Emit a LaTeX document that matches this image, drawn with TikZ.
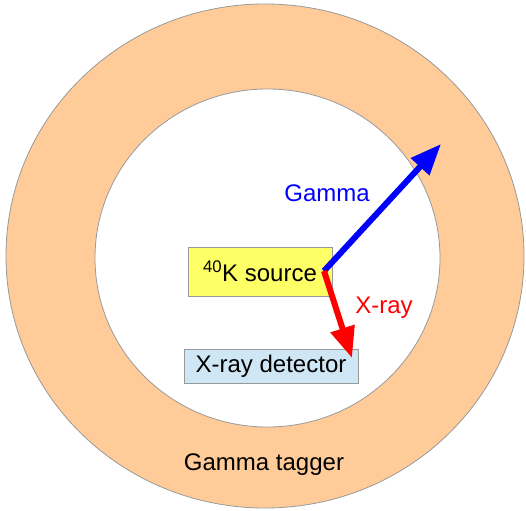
\documentclass[tikz,border=0pt]{standalone}
\usepackage{fontspec}
\setmainfont{Liberation Sans}
\usetikzlibrary{arrows.meta}
\definecolor{taggerfill}{HTML}{FFCC99}
\definecolor{sourcefill}{HTML}{FFFF66}
\definecolor{detectorfill}{HTML}{CFE7F5}

\begin{document}
\begin{tikzpicture}
  [x=1pt,y=-1pt,every node/.style={font=\fontsize{24}{28}\selectfont},
   box/.style={draw=gray!80,line width=0.8pt,inner sep=0pt},
   ray/.style={line width=6pt,#1,-{Triangle[length=31pt,width=24pt]}}]
  \useasboundingbox (0,0) rectangle (526,510);
  \draw[gray!80,line width=0.8pt,fill=taggerfill] (265,256) ellipse [x radius=259, y radius=252];
  \draw[gray!80,line width=0.8pt,fill=white] (267.5,258) ellipse [x radius=172.5, y radius=169];

  \node[box,fill=sourcefill,minimum width=144pt,minimum height=49pt] (source) at (260,271.5) {\textsuperscript{40}K source};
  \node[box,fill=detectorfill,minimum width=174pt,minimum height=34pt] (detector) at (271,366) {X-ray detector};
  \node[text=blue] (gammalabel) at (327,193) {Gamma};
  \node[text=red] (xraylabel) at (384,308) {X-ray};
  \node (tagger) at (264,465) {Gamma tagger};

  \coordinate (emit) at (324,271);
  \coordinate (gammaend) at (441,144);
  \coordinate (xrayend) at (352,358);
\foreach \to/\col in
{gammaend/blue, xrayend/red}
    \draw[ray=\col] (emit) -- (\to);
\end{tikzpicture}
\end{document}
